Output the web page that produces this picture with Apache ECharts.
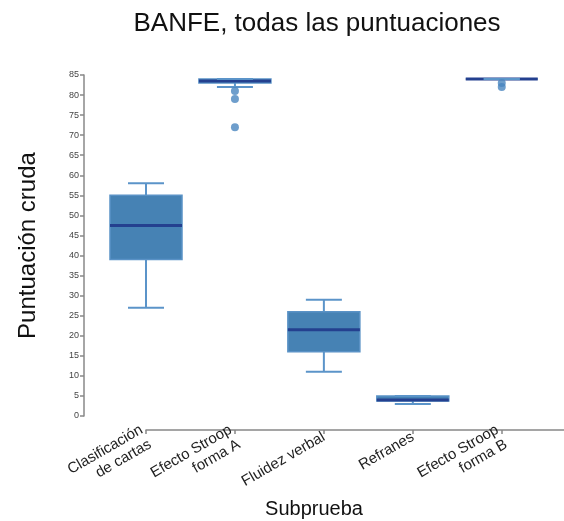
<!DOCTYPE html>
<html><head><meta charset="utf-8">
<script src="https://cdn.jsdelivr.net/npm/echarts@6/dist/echarts.min.js"></script>
<style>html,body{margin:0;padding:0;background:#fff}#c{width:564px;height:521px}</style>
</head><body><div id="c"></div>
<script>
const categories = ['Clasificación\nde cartas', 'Efecto Stroop\nforma A', 'Fluidez verbal', 'Refranes', 'Efecto Stroop\nforma B'];
const mins    = [27,   82,   11,   3,    84];
const q1s     = [39,   83,   16,   3.75, 84];
const medians = [47.5, 83.5, 21.5, 4,    84];
const q3s     = [55,   84,   26,   5,    84];
const maxs    = [58,   84,   29,   5,    84];
const outliers = [[1, 81], [1, 79], [1, 72], [4, 83], [4, 82]];

const FONT = '"Liberation Sans", Arial, sans-serif';
const boxData = categories.map((c, i) => [i, mins[i], q1s[i], medians[i], q3s[i], maxs[i]]);

const chart = echarts.init(document.getElementById('c'), null, {renderer: 'canvas'});
chart.setOption({
  animation: false,
  title: [
    {text: 'BANFE, todas las puntuaciones', left: 312, top: 6, textAlign: 'center',
     textStyle: {fontFamily: FONT, fontSize: 26, fontWeight: 'normal', color: '#111'}},
    {text: 'Subprueba', left: 309, top: 494, textAlign: 'center',
     textStyle: {fontFamily: FONT, fontSize: 20, fontWeight: 'normal', color: '#111'}}
  ],
  grid: {left: 146, right: 0, top: 75, bottom: 105, outerBoundsMode: 'none'},
  xAxis: {
    type: 'value', min: 0, max: 4.7, interval: 1, offset: 14,
    axisLine: {show: true, onZero: false, lineStyle: {color: '#888', width: 1.5}},
    axisTick: {show: true, length: 4, lineStyle: {color: '#888', width: 1.5}},
    splitLine: {show: false},
    axisLabel: {
      rotate: 30, margin: 6, fontFamily: FONT, fontSize: 15, lineHeight: 17, color: '#222',
      showMaxLabel: false,
      formatter: v => (Number.isInteger(v) && categories[v]) ? categories[v] : ''
    }
  },
  yAxis: {
    type: 'value', min: 0, max: 85, interval: 5, position: 'left', offset: 62,
    name: 'Puntuación cruda', nameLocation: 'middle', nameGap: 44,
    nameTextStyle: {fontFamily: FONT, fontSize: 24, color: '#111'},
    axisLine: {show: true, onZero: false, lineStyle: {color: '#888', width: 1.5}},
    axisTick: {show: true, length: 4, lineStyle: {color: '#888', width: 1.5}},
    splitLine: {show: false},
    axisLabel: {margin: 5, fontFamily: FONT, fontSize: 9, color: '#444'}
  },
  series: [
    {
      type: 'custom',
      data: boxData,
      clip: false,
      renderItem: function (params, api) {
        const i = api.value(0);
        const x = api.coord([i, 0])[0];
        const y = v => api.coord([i, v])[1];
        const yMin = y(api.value(1)), yQ1 = y(api.value(2)), yMed = y(api.value(3)),
              yQ3 = y(api.value(4)), yMax = y(api.value(5));
        const hw = 36, cw = 18;
        const wStyle = {stroke: '#5b94c9', lineWidth: 2};
        return {type: 'group', children: [
          {type: 'line', shape: {x1: x, y1: yQ1, x2: x, y2: yMin}, style: wStyle},
          {type: 'line', shape: {x1: x, y1: yQ3, x2: x, y2: yMax}, style: wStyle},
          {type: 'rect', shape: {x: x - hw, y: yQ3, width: 2 * hw, height: yQ1 - yQ3},
           style: {fill: '#4682b4', stroke: '#5a92c6', lineWidth: 1.5}},
          {type: 'line', shape: {x1: x - hw, y1: yMed, x2: x + hw, y2: yMed},
           style: {stroke: '#24408f', lineWidth: 3}},
          {type: 'line', shape: {x1: x - cw, y1: yMin, x2: x + cw, y2: yMin}, style: wStyle},
          {type: 'line', shape: {x1: x - cw, y1: yMax, x2: x + cw, y2: yMax}, style: wStyle}
        ]};
      }
    },
    {
      type: 'scatter',
      data: outliers,
      symbol: 'circle',
      symbolSize: 8,
      clip: false,
      itemStyle: {color: '#4a86bf'}
    }
  ]
});
</script></body></html>
